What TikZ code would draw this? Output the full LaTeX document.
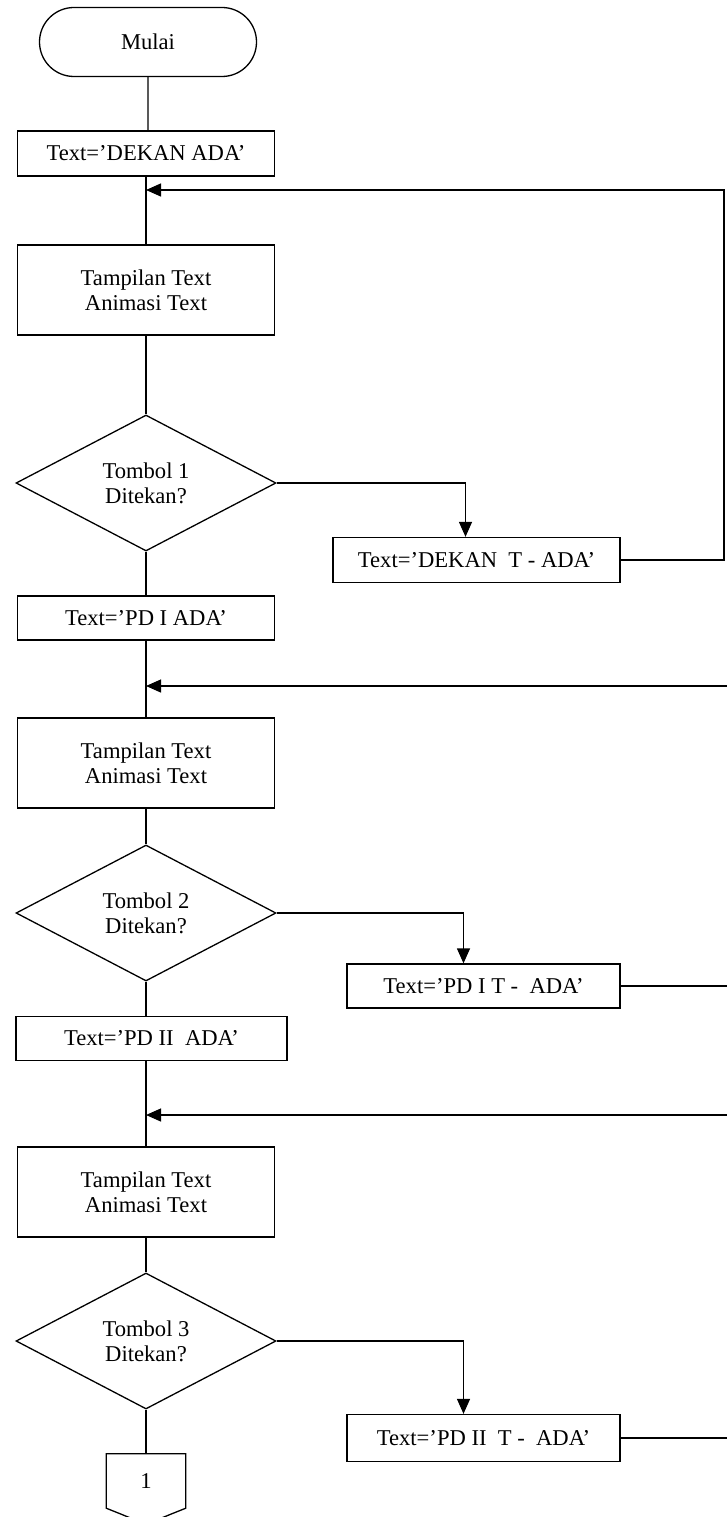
\documentclass[tikz,border=0pt]{standalone}
\usepackage{fontspec}
\setmainfont{Liberation Serif}
\usetikzlibrary{shapes.geometric,shapes.misc,arrows.meta}

\tikzset{
  box/.style={draw, line width=1.3pt, rectangle, inner sep=0pt, align=center},
  decision/.style={draw, line width=1.3pt, diamond, inner sep=0pt, align=center,
    minimum width=260pt, minimum height=136pt},
  terminal/.style={draw, line width=1.3pt, rounded rectangle, inner sep=0pt,
    minimum width=217pt, minimum height=69pt},
  flow/.style={line width=1.3pt},
  arr/.style={line width=1.3pt, -{Triangle[length=15pt,width=13pt]}}
}

\begin{document}
\begin{tikzpicture}[x=1pt, y=-1pt, font=\fontsize{22.6}{25}\selectfont]
      \useasboundingbox (0,0) rectangle (727,1517);

      \node[terminal] (start) at (148,42) {Mulai};
      \node[box, minimum width=257pt, minimum height=45pt] (dekan) at (146,153.5) {Text=’DEKAN ADA’};
      \coordinate (j1) at (146,190);
      \node[box, minimum width=257pt, minimum height=90pt] (show1) at (146,290) {Tampilan Text\\Animasi Text};
      \node[decision] (d1) at (146,483) {Tombol 1\\Ditekan?};
      \node[box, minimum width=287pt, minimum height=45pt] (dekant) at (476.5,560) {Text=’DEKAN\ \ T - ADA’};
      \coordinate (r1) at (724,190);

      \node[box, minimum width=257pt, minimum height=44pt] (pd1) at (146,618) {Text=’PD I ADA’};
      \coordinate (j2) at (146,686);
      \coordinate (r2) at (735,686);
      \node[box, minimum width=257pt, minimum height=90pt] (show2) at (146,763) {Tampilan Text\\Animasi Text};
      \node[decision] (d2) at (146,913) {Tombol 2\\Ditekan?};
      \node[box, minimum width=273pt, minimum height=44pt] (pd1t) at (483.5,986) {Text=’PD I T -\ \ ADA’};

      \node[box, minimum width=271pt, minimum height=44pt] (pd2) at (151.5,1038.5) {Text=’PD II\ \ ADA’};
      \coordinate (j3) at (146,1115);
      \coordinate (r3) at (735,1115);
      \node[box, minimum width=257pt, minimum height=90pt] (show3) at (146,1192) {Tampilan Text\\Animasi Text};
      \node[decision] (d3) at (146,1341) {Tombol 3\\Ditekan?};
      \node[box, minimum width=273pt, minimum height=47pt] (pd2t) at (483.5,1438) {Text=’PD II\ \ T -\ \ ADA’};

      \node[minimum width=79pt, minimum height=54pt, inner sep=0pt] (conn) at (146,1481) {1};
      \draw[flow] (conn.north west) -- (conn.north east) -- (conn.south east)
        -- ([yshift=-16pt]conn.south) -- (conn.south west) -- cycle;

      % main column
      \draw[flow] (start) -- (start |- dekan.north);
      \draw[flow] (dekan) -- (show1);
      \draw[flow] (show1) -- (d1);
      \draw[flow] (d1) -- (pd1);
      \draw[flow] (pd1) -- (show2);
      \draw[flow] (show2) -- (d2);
      \draw[flow] (d2.south) -- (d2.south |- pd2.north);
      \draw[flow] (pd2.south -| show3) -- (show3);
      \draw[flow] (show3) -- (d3);
      \draw[flow] (d3) -- (conn);

      % branches
      \draw[arr] (d1.east) -| ([xshift=-11pt]dekant.north);
      \draw[arr] (d2.east) -| ([xshift=-20pt]pd1t.north);
      \draw[arr] (d3.east) -| ([xshift=-20pt]pd2t.north);

      % loops back
      \draw[arr] (dekant.east) -| (r1) -- (j1);
      \draw[arr] (r2) -- (j2);
      \draw[flow] (pd1t.east) -- (pd1t.east -| r2);
      \draw[arr] (r3) -- (j3);
      \draw[flow] (pd2t.east) -- (pd2t.east -| r3);

    \end{tikzpicture}
\end{document}
